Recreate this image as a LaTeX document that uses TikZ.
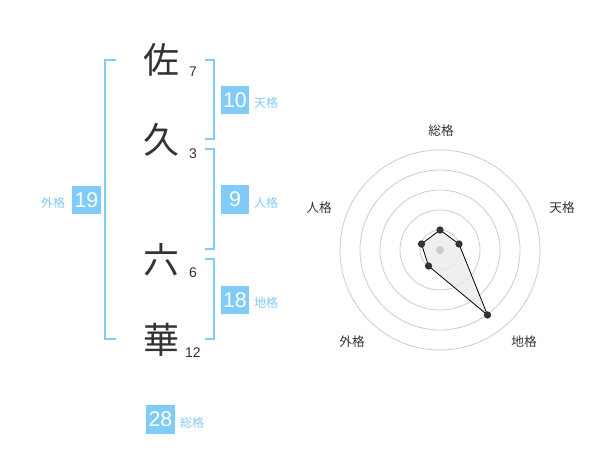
\documentclass[tikz,border=0pt]{standalone}
\usepackage{fontspec}
\setmainfont{Noto Sans CJK JP}
\newfontfamily\numfont{Liberation Sans}
\definecolor{sky}{HTML}{80CBF7}
\definecolor{ink}{HTML}{333333}
\definecolor{ring}{HTML}{CCCCCC}
\begin{document}
\begin{tikzpicture}[x=0.75pt,y=-0.75pt,
  kanji/.style={text=ink,font=\fontsize{27}{27}\selectfont,inner sep=0pt},
  strokes/.style={text=ink,font=\numfont\fontsize{10.5}{10.5}\selectfont,inner sep=0pt},
  valbox/.style={fill=sky,text=white,minimum width=21.5pt,minimum height=21.5pt,inner sep=0pt,font=\numfont\fontsize{16}{16}\selectfont},
  vallabel/.style={text=sky,font=\fontsize{9}{9}\selectfont,inner sep=0pt},
  bracket/.style={draw=sky,line width=1.5pt},
  ringline/.style={draw=ring,line width=0.6pt},
  axislabel/.style={text=ink,font=\fontsize{9.5}{9.5}\selectfont,inner sep=0pt},
  dot/.style={circle,fill=ink,inner sep=0pt,minimum size=5.5pt}]
\useasboundingbox (0,0) rectangle (600,470);
% kanji
\node[kanji] (c1) at (161,60) {佐};
\node[kanji] (c2) at (161,140) {久};
\node[kanji] (c3) at (161,260) {六};
\node[kanji] (c4) at (161,340) {華};
\node[strokes] (s1) at (193,72) {7};
\node[strokes] (s2) at (193,154) {3};
\node[strokes] (s3) at (193,273) {6};
\node[strokes] (s4) at (193,353) {12};
% brackets
\draw[bracket] (116,60) -- (105,60) -- (105,339) -- (116,339);
\draw[bracket] (205,60) -- (214,60) -- (214,139) -- (205,139);
\draw[bracket] (205,149) -- (214,149) -- (214,249) -- (205,249);
\draw[bracket] (205,259) -- (214,259) -- (214,339) -- (205,339);
% values
\node[valbox] (gai) at (86.5,200) {19};
\node[vallabel] (gail) at (53,203) {外格};
\node[valbox] (ten) at (235,100) {10};
\node[vallabel] (tenl) at (266,103) {天格};
\node[valbox] (jin) at (235,199.5) {9};
\node[vallabel] (jinl) at (266,203) {人格};
\node[valbox] (chi) at (235,300) {18};
\node[vallabel] (chil) at (266,303) {地格};
\node[valbox] (sou) at (160.5,419.5) {28};
\node[vallabel] (soul) at (192,423) {総格};
% radar
\coordinate (o) at (440,250);
\foreach \r in {20,40,60,80,100} \draw[ringline] (o) circle[radius=\r];
\coordinate (p1) at (440,230);
\coordinate (p2) at (459,244);
\coordinate (p3) at (487.5,315);
\coordinate (p4) at (428.5,266);
\coordinate (p5) at (421.5,244);
\fill[black!8,opacity=0.8] (p1) -- (p2) -- (p3) -- (p4) -- (p5) -- cycle;
\draw[black,line width=0.6pt] (p1) -- (p2) -- (p3) -- (p4) -- (p5) -- cycle;
\fill[ring] (o) circle[radius=4];
\foreach \p in {p1,p2,p3,p4,p5} \node[dot] at (\p) {};
\node[axislabel] (a1) at (441,131) {総格};
\node[axislabel] (a2) at (562,208) {天格};
\node[axislabel] (a3) at (524,342) {地格};
\node[axislabel] (a4) at (352,342) {外格};
\node[axislabel] (a5) at (319,208) {人格};
\end{tikzpicture}
\end{document}
